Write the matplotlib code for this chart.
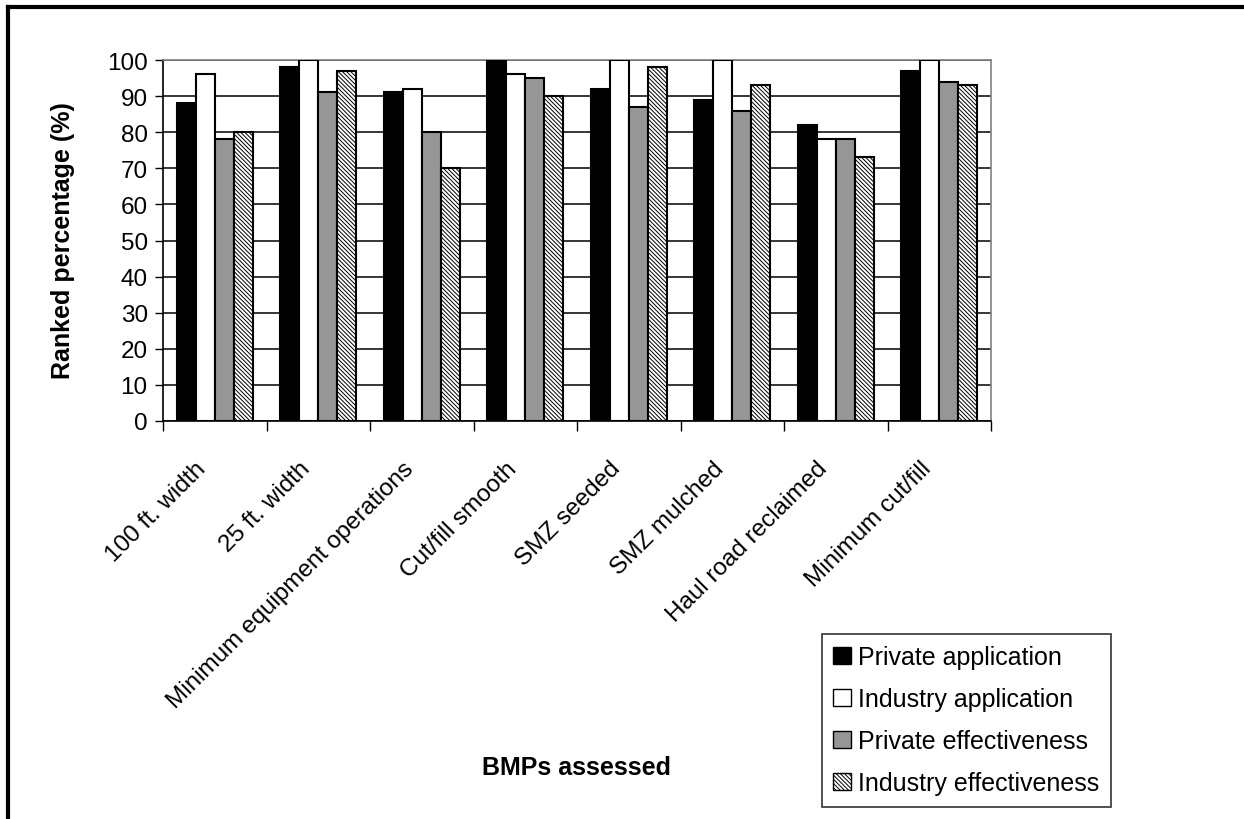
import matplotlib.pyplot as plt
import numpy as np
from matplotlib.patches import Patch

plt.rcParams['font.family'] = ['Liberation Sans', 'DejaVu Sans']
plt.rcParams['hatch.linewidth'] = 0.7

# Data
categories = ["100 ft. width", "25 ft. width", "Minimum equipment operations",
              "Cut/fill smooth", "SMZ seeded", "SMZ mulched",
              "Haul road reclaimed", "Minimum cut/fill"]
private_application = [88, 98, 91, 100, 92, 89, 82, 97]
industry_application = [96, 100, 92, 96, 100, 100, 78, 100]
private_effectiveness = [78, 91, 80, 95, 87, 86, 78, 94]
industry_effectiveness = [80, 97, 70, 90, 98, 93, 73, 93]

series = [
    ("Private application", private_application, dict(facecolor="black")),
    ("Industry application", industry_application, dict(facecolor="white")),
    ("Private effectiveness", private_effectiveness, dict(facecolor="#969696")),
    ("Industry effectiveness", industry_effectiveness,
     dict(facecolor="white", hatch="\\\\\\\\\\\\\\\\")),
]

W, H = 1244, 820
fig = plt.figure(figsize=(W / 100, H / 100), dpi=100)
ax = fig.add_axes([163 / W, 1 - 422 / H, (991 - 163) / W, (422 - 61) / H])

x = np.arange(len(categories))
bw = 0.184
for i, (name, vals, style) in enumerate(series):
    ax.bar(x + (i - 1.5) * bw, vals, bw, edgecolor="black", linewidth=1.5,
           label=name, zorder=3, **style)

ax.set_xlim(-0.5, len(categories) - 0.5)
ax.set_ylim(0, 100)
ax.set_yticks(np.arange(0, 101, 10))
ax.tick_params(axis="y", direction="out", length=6, width=1, labelsize=17.5, pad=5)
ax.yaxis.grid(True, color="black", linewidth=1.1, zorder=0)
ax.set_axisbelow(True)

# category ticks between groups
ax.set_xticks(np.arange(-0.5, len(categories)))
ax.set_xticklabels([])
ax.tick_params(axis="x", direction="out", length=7, width=1)
for xi, lab in zip(x, categories):
    ax.text(xi - 0.19, -10, lab, rotation=45, ha="right", va="top",
            rotation_mode="anchor", fontsize=17.5)

for side in ["top", "right"]:
    ax.spines[side].set_color("#808080")
    ax.spines[side].set_linewidth(1.2)
for side in ["left", "bottom"]:
    ax.spines[side].set_color("black")
    ax.spines[side].set_linewidth(1.2)

fig.text(63 / W, 1 - 241 / H, "Ranked percentage (%)", rotation=90, fontsize=18,
         fontweight="bold", ha="center", va="center")
fig.text(577 / W, 1 - 768 / H, "BMPs assessed", fontsize=18, fontweight="bold",
         ha="center", va="center")

handles = [Patch(edgecolor="black", linewidth=1, label=n, **s) for n, _, s in series]
leg = fig.legend(handles=handles, loc="upper left",
                 bbox_to_anchor=(822 / W, 1 - 635 / H), fontsize=18,
                 frameon=True, fancybox=False, edgecolor="black",
                 handlelength=0.7, handleheight=0.7, handletextpad=0.3,
                 labelspacing=0.72, borderpad=0.45, borderaxespad=0)
leg.get_frame().set_linewidth(1.2)

# outer frame (left and top edges visible)
fig.add_artist(plt.Line2D([8 / W, 8 / W], [0, 1 - 8 / H], transform=fig.transFigure,
                          color="black", linewidth=3))
fig.add_artist(plt.Line2D([8 / W, 1], [1 - 8 / H, 1 - 8 / H], transform=fig.transFigure,
                          color="black", linewidth=3))

fig.savefig("out.png", dpi=100)
